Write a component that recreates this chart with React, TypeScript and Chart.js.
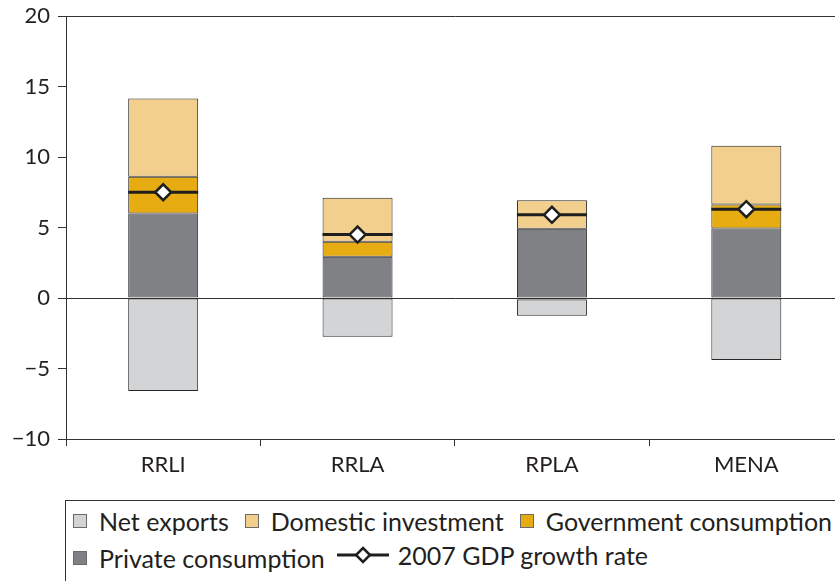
import React, { useEffect, useRef } from "react";
import { Chart, registerables } from "chart.js";

Chart.register(...registerables);

const categories = ["RRLI", "RRLA", "RPLA", "MENA"];
const privateConsumption = [6.0, 2.92, 4.91, 4.93];
const governmentConsumption = [2.6, 1.07, -0.1, 1.7];
const domesticInvestment = [5.55, 3.12, 2.03, 4.16];
const netExports = [-6.6, -2.75, -1.16, -4.4];
const gdpGrowth2007 = [7.5, 4.5, 5.9, 6.3];
const yTicks = [-10, -5, 0, 5, 10, 15, 20];

const COLORS = {
  net: "#d3d4d6",
  inv: "#f2cf8c",
  gov: "#e6ac12",
  priv: "#808184",
  edge: "#262626",
};

const FONT = "Lato, 'Open Sans', sans-serif";

export default function App() {
  const ref = useRef<HTMLCanvasElement | null>(null);

  useEffect(() => {
    if (!ref.current) return;
    const barCommon = {
      borderColor: COLORS.edge,
      borderWidth: 1,
      borderSkipped: false as const,
      barPercentage: 0.36,
      categoryPercentage: 1,
      order: 3,
    };
    const chart = new Chart(ref.current, {
      type: "bar",
      data: {
        labels: categories,
        datasets: [
          { ...barCommon, label: "Private consumption", data: privateConsumption, backgroundColor: COLORS.priv },
          { ...barCommon, label: "Government consumption", data: governmentConsumption, backgroundColor: COLORS.gov },
          { ...barCommon, label: "Domestic investment", data: domesticInvestment, backgroundColor: COLORS.inv },
          { ...barCommon, label: "Net exports", data: netExports, backgroundColor: COLORS.net },
          {
            type: "line",
            label: "2007 GDP growth rate",
            data: gdpGrowth2007,
            stack: "gdpLine",
            showLine: false,
            clip: false,
            pointStyle: "line",
            pointRadius: 35,
            pointHoverRadius: 35,
            pointBorderColor: "#1e1e1e",
            pointBorderWidth: 3,
            order: 1,
          } as any,
          {
            type: "line",
            label: "2007 GDP growth rate marker",
            data: gdpGrowth2007,
            stack: "gdpMarker",
            showLine: false,
            clip: false,
            pointStyle: "rectRot",
            pointRadius: 8,
            pointHoverRadius: 8,
            pointBackgroundColor: "#ffffff",
            pointBorderColor: "#1e1e1e",
            pointBorderWidth: 2.5,
            order: 0,
          } as any,
        ],
      },
      options: {
        responsive: false,
        animation: false,
        layout: { autoPadding: false, padding: { top: 16, right: 6.5, left: 0, bottom: 0 } } as any,
        plugins: { legend: { display: false }, tooltip: { enabled: false } },
        scales: {
          x: {
            stacked: true,
            grid: {
              offset: true,
              drawOnChartArea: false,
              drawTicks: true,
              tickLength: 7,
              color: "#333",
            },
            border: { display: true, color: "#333", width: 1 },
            ticks: {
              color: "#231f20",
              font: { family: FONT, size: 22 },
              padding: 6,
            },
            afterFit: (s: any) => {
              s.height = 56;
              s.paddingLeft = 0;
              s.paddingRight = 0;
            },
          },
          y: {
            stacked: true,
            min: -10,
            max: 20,
            afterBuildTicks: (s: any) => {
              s.ticks = yTicks.map((v) => ({ value: v }));
            },
            grid: {
              color: (ctx: any) =>
                ctx.tick && (ctx.tick.value === 0 || ctx.tick.value === 20) ? "#333" : "rgba(0,0,0,0)",
              tickColor: "#333",
              tickLength: 8,
              lineWidth: 1,
            },
            border: { display: true, color: "#333", width: 1 },
            ticks: {
              color: "#231f20",
              font: { family: FONT, size: 22 },
              padding: 8,
              callback: (v: any) => (Number(v) < 0 ? "\u2212" + Math.abs(Number(v)) : String(v)),
            },
            afterFit: (s: any) => {
              s.width = 66;
              s.paddingTop = 0;
              s.paddingBottom = 0;
            },
          },
        },
      },
    });
    return () => chart.destroy();
  }, []);

  const swatch = (color: string) => (
    <span
      style={{
        display: "inline-block",
        width: 14,
        height: 14,
        background: color,
        border: "1px solid #6b6b6b",
        marginRight: 12,
        boxSizing: "border-box",
      }}
    />
  );

  const itemStyle: React.CSSProperties = {
    display: "inline-flex",
    alignItems: "center",
    marginRight: 16,
    whiteSpace: "nowrap",
  };

  return (
    <div
      style={{
        position: "absolute",
        left: 0,
        top: 0,
        width: 835,
        height: 581,
        overflow: "hidden",
        background: "#fff",
      }}
    >
      <canvas ref={ref} width={850} height={495} style={{ position: "absolute", left: 0, top: 0 }} />
      <div
        style={{
          position: "absolute",
          left: 65,
          top: 500,
          width: 900,
          height: 200,
          borderTop: "1px solid #333",
          borderLeft: "1px solid #333",
          fontFamily: FONT,
          fontSize: 25,
          color: "#231f20",
          lineHeight: "34px",
          paddingLeft: 7,
          paddingTop: 0,
          boxSizing: "border-box",
        }}
      >
        <div style={{ whiteSpace: "nowrap" }}>
          <span style={itemStyle}>
            {swatch(COLORS.net)}Net exports
          </span>
          <span style={itemStyle}>
            {swatch(COLORS.inv)}Domestic investment
          </span>
          <span style={itemStyle}>
            {swatch(COLORS.gov)}Government consumption
          </span>
        </div>
        <div style={{ whiteSpace: "nowrap" }}>
          <span style={{ ...itemStyle, marginRight: 11 }}>
            {swatch(COLORS.priv)}Private consumption
          </span>
          <span style={{ ...itemStyle, marginRight: 0 }}>
            <svg width="54" height="20" style={{ marginRight: 8 }}>
              <line x1="1" y1="10" x2="53" y2="10" stroke="#1e1e1e" strokeWidth="3" />
              <polygon points="27,3 34,10 27,17 20,10" fill="#fff" stroke="#1e1e1e" strokeWidth="2.5" />
            </svg>
            2007 GDP growth rate
          </span>
        </div>
      </div>
    </div>
  );
}
